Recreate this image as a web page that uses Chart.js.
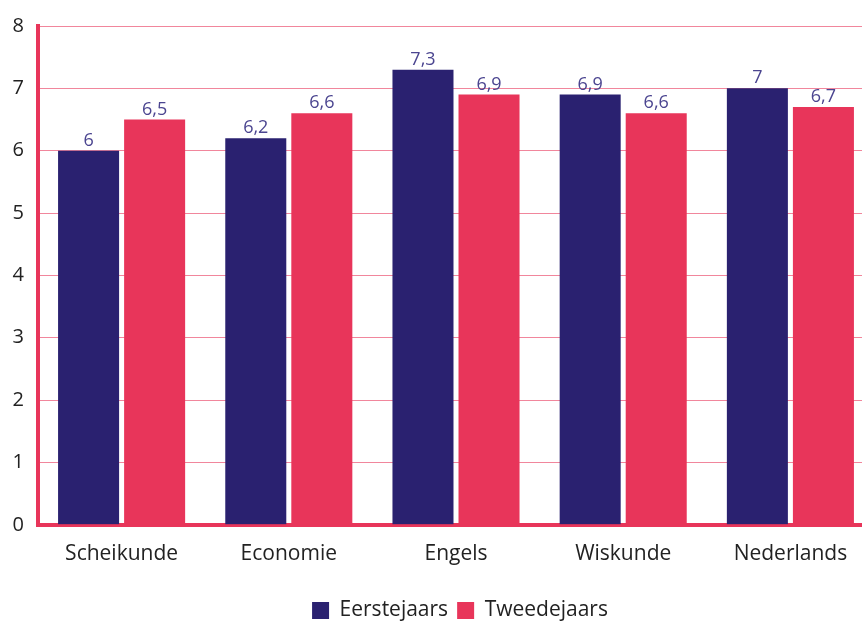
<!DOCTYPE html>
<html>
<head>
<meta charset="utf-8">
<script src="https://cdn.jsdelivr.net/npm/chart.js@4"></script>
<style>
  html, body { margin: 0; padding: 0; background: #fff; overflow: hidden; }
  #wrap { width: 880px; height: 624px; }
</style>
</head>
<body>
<div id="wrap"><canvas id="grades"></canvas></div>
<script>
const subjects = ["Scheikunde", "Economie", "Engels", "Wiskunde", "Nederlands"];
const firstYear = [6, 6.2, 7.3, 6.9, 7];
const secondYear = [6.5, 6.6, 6.9, 6.6, 6.7];
const yTicks = [0, 1, 2, 3, 4, 5, 6, 7, 8];

const NAVY = "#2a2170";
const RED = "#e8355a";
const FONT = "'Open Sans', 'Noto Sans', sans-serif";

// labels above the bars, with a decimal comma
const valueLabels = {
  id: "valueLabels",
  afterDatasetsDraw(chart) {
    const ctx = chart.ctx;
    ctx.save();
    ctx.font = "18px " + FONT;
    ctx.fillStyle = "#4b4590";
    ctx.textAlign = "center";
    ctx.textBaseline = "bottom";
    chart.data.datasets.forEach((ds, i) => {
      chart.getDatasetMeta(i).data.forEach((bar, j) => {
        ctx.fillText(String(ds.data[j]).replace(".", ","), bar.x, bar.y - 1);
      });
    });
    ctx.restore();
  },
};

// legend sits a bit right of the canvas centre in the original
const nudgeLegend = {
  id: "nudgeLegend",
  afterLayout(chart) {
    chart.legend.left += 23;
    chart.legend.right += 23;
  },
};

new Chart(document.getElementById("grades").getContext("2d"), {
  type: "bar",
  data: {
    labels: subjects,
    datasets: [
      { label: "Eerstejaars", data: firstYear, backgroundColor: NAVY },
      { label: "Tweedejaars", data: secondYear, backgroundColor: RED },
    ],
  },
  options: {
    responsive: true,
    maintainAspectRatio: false,
    animation: false,
    categoryPercentage: 0.79,
    barPercentage: 0.924,
    layout: { padding: { top: 21, right: 6, bottom: -7, left: 0 } },
    plugins: {
      tooltip: { enabled: false },
      legend: {
        position: "bottom",
        labels: {
          font: { family: FONT, size: 21 },
          color: "#222",
          boxWidth: 17,
          boxHeight: 17,
          padding: 9,
        },
      },
    },
    scales: {
      x: {
        afterFit(axis) { axis.height += 15; },
        grid: { display: false },
        border: { display: true, color: RED, width: 4 },
        ticks: { font: { family: FONT, size: 21 }, color: "#222", padding: 9 },
      },
      y: {
        min: 0,
        max: 8,
        afterFit(axis) { axis.width = 38; },
        afterBuildTicks(axis) { axis.ticks = yTicks.map((v) => ({ value: v })); },
        grid: { color: "rgba(232, 53, 90, 0.6)", lineWidth: 1, drawTicks: false },
        border: { display: true, color: RED, width: 4 },
        ticks: { font: { family: FONT, size: 20 }, color: "#222", padding: 14 },
      },
    },
  },
  plugins: [valueLabels, nudgeLegend],
});
</script>
</body>
</html>
